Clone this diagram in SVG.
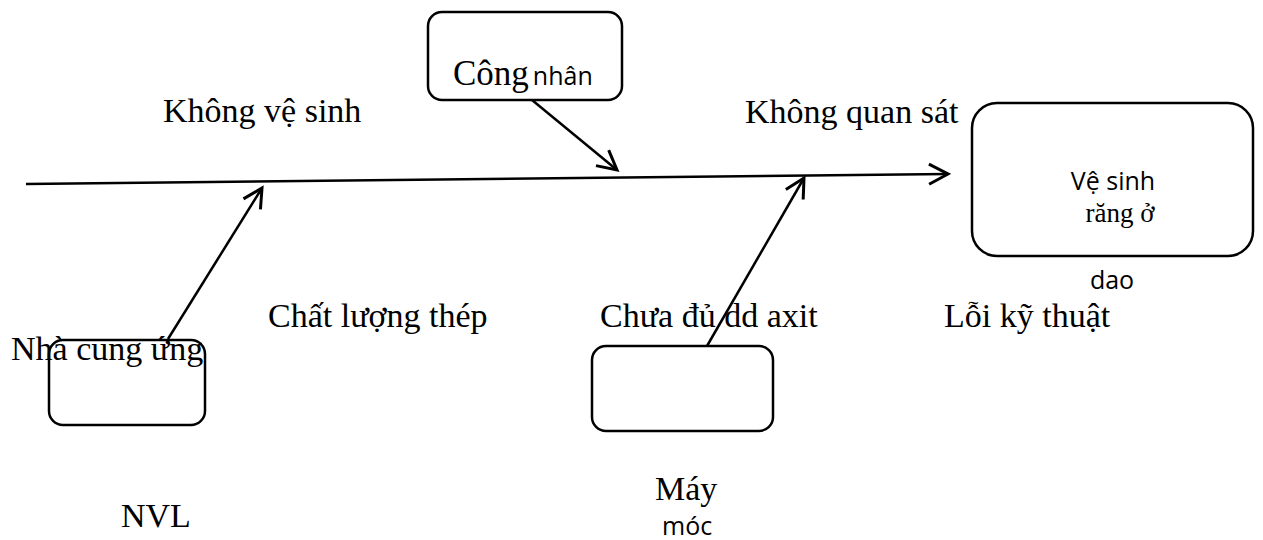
<svg xmlns="http://www.w3.org/2000/svg" width="1263" height="540" viewBox="0 0 1263 540">
<style>
.box{fill:none;stroke:#000;stroke-width:2.5}
.ln{fill:none;stroke:#000;stroke-width:2.5}
.s{font-family:"Liberation Serif",serif;font-size:34px;fill:#000}
.ss{font-family:"Open Sans","Noto Sans",sans-serif;font-size:25px;fill:#000}
</style>
<defs>
<marker id="arr" viewBox="0 0 24 24" refX="21" refY="12" markerWidth="24" markerHeight="24" markerUnits="userSpaceOnUse" orient="auto">
<path d="M2,2 L21,12 L2,22" fill="none" stroke="#000" stroke-width="3"/>
</marker>
</defs>
<g id="connectors">
<line class="ln" x1="26" y1="184" x2="948" y2="174" marker-end="url(#arr)"/>
<line class="ln" x1="532" y1="100" x2="617" y2="170" marker-end="url(#arr)"/>
<line class="ln" x1="168" y1="339" x2="262" y2="188" marker-end="url(#arr)"/>
<line class="ln" x1="707" y1="346" x2="804" y2="178" marker-end="url(#arr)"/>
</g>
<g id="cong-nhan">
<rect class="box" x="428" y="12" width="194" height="88" rx="14"/>
<text x="453" y="85"><tspan class="s" style="font-size:35px">Công</tspan><tspan class="ss" dx="4">nhân</tspan></text>
</g>
<g id="effect">
<rect class="box" x="972" y="103" width="281" height="153" rx="25"/>
<text class="ss" x="1113" y="190" text-anchor="middle">Vệ sinh</text>
<text class="s" x="1120" y="222" text-anchor="middle" style="font-size:27px">răng ở</text>
<text class="ss" x="1112" y="289" text-anchor="middle">dao</text>
</g>
<g id="nvl">
<rect class="box" x="49" y="340" width="156" height="85" rx="14"/>
<text class="s" x="11" y="360">Nhà cung ứng</text>
<text class="s" x="121" y="527">NVL</text>
</g>
<g id="may-moc">
<rect class="box" x="592" y="346" width="181" height="85" rx="14"/>
<text class="s" x="655" y="500">Máy</text>
<text class="ss" x="662" y="535">móc</text>
</g>
<g id="labels">
<text class="s" x="163" y="122">Không vệ sinh</text>
<text class="s" x="745" y="123">Không quan sát</text>
<text class="s" x="268" y="327">Chất lượng thép</text>
<text class="s" x="600" y="327">Chưa đủ dd axit</text>
<text class="s" x="944" y="327">Lỗi kỹ thuật</text>
</g>
</svg>
